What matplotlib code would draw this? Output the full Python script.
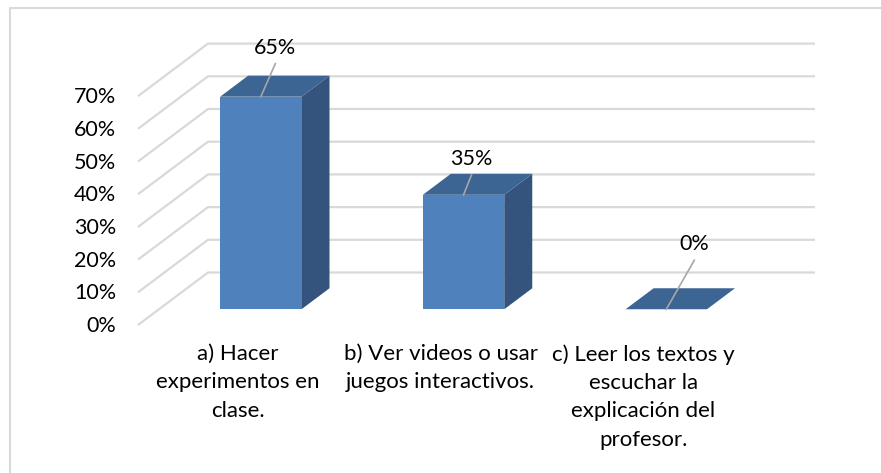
import numpy as np
import matplotlib
matplotlib.use('Agg')
import matplotlib.pyplot as plt
from matplotlib.patches import Polygon

# data
categories = ['a) Hacer\nexperimentos en\nclase.',
              'b) Ver videos o usar\njuegos interactivos.',
              'c) Leer los textos y\nescuchar la\nexplicación del\nprofesor.']
values = [65, 35, 0]
tick_values = [0, 10, 20, 30, 40, 50, 60, 70]
label_offsets = [(14.5, -50), (8, -37), (28, -66)]  # moved data labels (Excel style)

# fake 3D geometry (oblique projection, screen pixels)
W, H = 881, 473
FRONT_Y0 = 325.0      # y of 0% on the front plane
PX_PER_PCT = 3.27
DEPTH_DX, DEPTH_DY = 70.0, -52.5   # shift from front (z=0) to back wall (z=1)
WALL_X = 138.0        # left wall, front edge
WALL_RIGHT = 815.0
CAT_X0, CAT_STEP = 239.8, 202.75
HALF_W = 40.7
Z_FRONT, Z_BACK = 0.3, 0.7

FACE = '#4F81BD'
TOP = '#3D6593'
SIDE = '#34547E'
GRID = '#D9D9D9'


def proj(x, v, z):
    return (x + z * DEPTH_DX, FRONT_Y0 - v * PX_PER_PCT + z * DEPTH_DY)


plt.rcParams['font.family'] = ['Lato', 'DejaVu Sans']
fig = plt.figure(figsize=(W / 100, H / 100), dpi=100)
ax = fig.add_axes([0, 0, 1, 1])
ax.set_xlim(0, W)
ax.set_ylim(H, 0)
ax.axis('off')

# chart border
ax.plot([10, 10, W], [H, 8, 8], color=GRID, lw=1.5, zorder=1)

# walls / gridlines
for v in tick_values:
    fx, fy = proj(WALL_X, v, 0)
    bx, by = proj(WALL_X, v, 1)
    ax.plot([fx, bx, WALL_RIGHT], [fy, by, by], color=GRID, lw=1.6,
            solid_capstyle='butt', zorder=1)
    ax.text(116, fy + 1, f'{v}%', ha='right', va='center', fontsize=15.5,
            color='#000000')

# bars
for i, (v, cat) in enumerate(zip(values, categories)):
    xc = CAT_X0 + i * CAT_STEP
    xl, xr = xc - HALF_W, xc + HALF_W
    top = [proj(xl, v, Z_FRONT), proj(xr, v, Z_FRONT),
           proj(xr, v, Z_BACK), proj(xl, v, Z_BACK)]
    side = [proj(xr, 0, Z_FRONT), proj(xr, v, Z_FRONT),
            proj(xr, v, Z_BACK), proj(xr, 0, Z_BACK)]
    front = [proj(xl, 0, Z_FRONT), proj(xr, 0, Z_FRONT),
             proj(xr, v, Z_FRONT), proj(xl, v, Z_FRONT)]
    if v > 0:
        ax.add_patch(Polygon(side, closed=True, fc=SIDE, ec='none', zorder=3))
        ax.add_patch(Polygon(front, closed=True, fc=FACE, ec='none', zorder=4))
    ax.add_patch(Polygon(top, closed=True, fc=TOP, ec='none', zorder=4))

    # data label with leader line
    ax_, ay_ = proj(xc, v, Z_FRONT)
    dx, dy = label_offsets[i]
    tx, ty = ax_ + dx, ay_ + dy
    ax.plot([tx, ax_], [ty + 17, ay_], color='#A6A6A6', lw=1.2, zorder=5)
    ax.text(tx, ty + 1, f'{v}%', ha='center', va='center', fontsize=15.5,
            zorder=6)

    # category label
    lx, _ = proj(xc, 0, 0)
    ax.text(lx - 2, 344, cat, ha='center', va='top', fontsize=16,
            linespacing=1.52)

fig.savefig('out.png', dpi=100)
